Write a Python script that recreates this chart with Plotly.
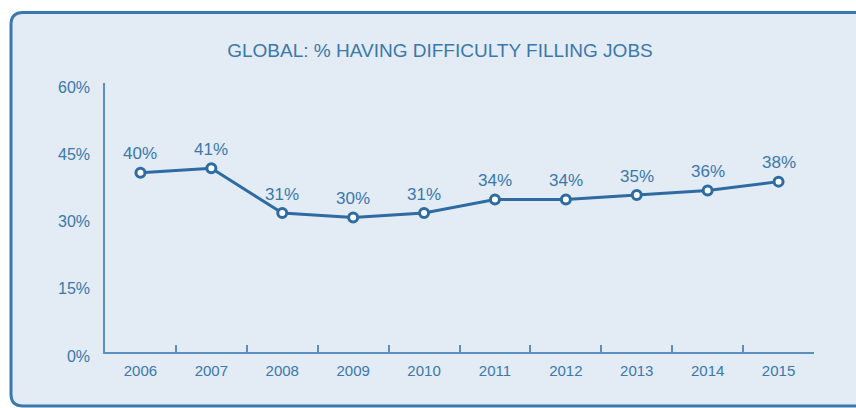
import plotly.graph_objects as go

# Survey results: share of employers reporting difficulty filling jobs
years = ["2006", "2007", "2008", "2009", "2010", "2011", "2012", "2013", "2014", "2015"]
pct_difficulty = [40, 41, 31, 30, 31, 34, 34, 35, 36, 38]
y_ticks = [0, 15, 30, 45, 60]
y_tick_labels = ["0%", "15%", "30%", "45%", "60%"]

W, H = 856, 408
ML, MR, MT, MB = 105, 42, 83, 56
PW, PH = W - ML - MR, H - MT - MB

LINE = "#2d6ba2"
TEXT = "#3a78ad"
AXIS = "#5b8fbd"
PANEL = "#e3ebf4"
FONT = "Liberation Sans, Arial, sans-serif"


def px_to_paper(x, y):
    return (x - ML) / PW, (H - MB - y) / PH


def rounded_panel(x0, y0, x1, y1, r):
    def p(x, y):
        fx, fy = px_to_paper(x, y)
        return f"{fx:.5f},{fy:.5f}"
    return (
        f"M {p(x0 + r, y0)} L {p(x1 - r, y0)} Q {p(x1, y0)} {p(x1, y0 + r)} "
        f"L {p(x1, y1 - r)} Q {p(x1, y1)} {p(x1 - r, y1)} "
        f"L {p(x0 + r, y1)} Q {p(x0, y1)} {p(x0, y1 - r)} "
        f"L {p(x0, y0 + r)} Q {p(x0, y0)} {p(x0 + r, y0)} Z"
    )


fig = go.Figure()
fig.add_trace(go.Scatter(
    x=years,
    y=pct_difficulty,
    mode="lines+markers",
    line=dict(color=LINE, width=3),
    marker=dict(size=9, color="white", line=dict(color=LINE, width=3)),
    cliponaxis=False,
    hoverinfo="skip",
))

# value labels above each point (category axis: position by index)
for i, v in enumerate(pct_difficulty):
    fig.add_annotation(
        x=i, y=v, xref="x", yref="y", text=f"{v}%", showarrow=False,
        yshift=19, font=dict(family=FONT, size=17, color=TEXT),
    )

fig.add_shape(
    type="path",
    xref="paper", yref="paper",
    path=rounded_panel(11, 12.5, 880, 406, 12),
    fillcolor=PANEL,
    line=dict(color="#3a79ad", width=3),
    layer="below",
)

fig.update_layout(
    width=W, height=H,
    margin=dict(l=ML, r=MR, t=MT, b=MB),
    paper_bgcolor="white",
    plot_bgcolor="rgba(0,0,0,0)",
    showlegend=False,
    font=dict(family=FONT, color=TEXT),
    title=dict(
        text="GLOBAL: % HAVING DIFFICULTY FILLING JOBS",
        x=440 / W, xanchor="center",
        y=1 - 50 / H, yanchor="middle",
        font=dict(family=FONT, size=19, color=TEXT),
    ),
    xaxis=dict(
        type="category",
        range=[-0.5, len(years) - 0.5],
        showline=True, linecolor=AXIS, linewidth=2,
        showgrid=False, zeroline=False,
        ticks="inside", tickson="boundaries", ticklen=7,
        tickcolor=AXIS, tickwidth=1.5,
        tickfont=dict(family=FONT, size=15, color=TEXT),
        ticklabelstandoff=4,
        fixedrange=True,
    ),
    yaxis=dict(
        range=[0, 60],
        tickvals=y_ticks, ticktext=y_tick_labels,
        showline=True, linecolor=AXIS, linewidth=1.5,
        showgrid=False, zeroline=False,
        ticks="", ticklabelstandoff=10, ticklabelshift=4,
        tickfont=dict(family=FONT, size=16, color=TEXT),
        fixedrange=True,
    ),
)

fig.write_html("out.html")
